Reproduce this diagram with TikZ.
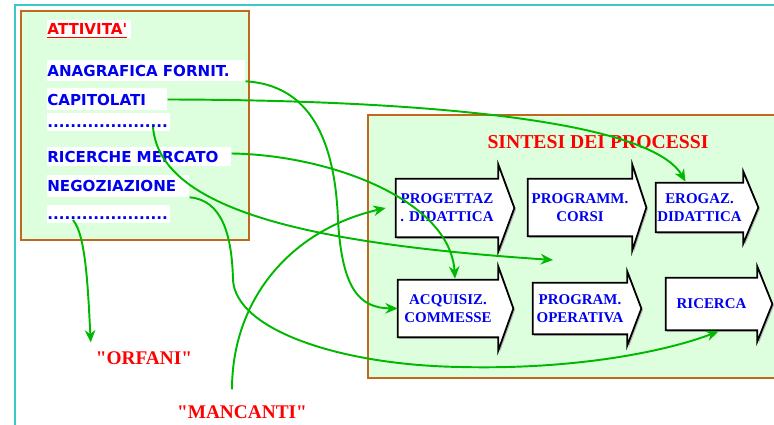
\documentclass[tikz,border=0pt]{standalone}
\usepackage{fontspec}
\setmainfont{Liberation Serif}
\newfontfamily\itemfont{DejaVu Sans}
\newfontfamily\tagfont{Liberation Serif}
\usetikzlibrary{arrows.meta, positioning, calc, shadows}
\definecolor{sinGreen}{HTML}{00B800}
\definecolor{sinPanel}{HTML}{DDFFDD}
\definecolor{sinBrown}{HTML}{C0681E}
\definecolor{sinCyan}{HTML}{3CC8C8}
\definecolor{sinBlue}{HTML}{0000F0}
\definecolor{sinRed}{HTML}{FF0000}

\newcommand{\procarrow}[7]{%
  \node[procbody, minimum width={#3*0.02cm}, minimum height={#4*0.02cm}] (#1) at (#2) {};
  \filldraw[procline] (#1.north west) -- (#1.north east) -- ++(0,-#5)
    -- ($(#1.east)+(#6,0)$) -- ($(#1.south east)+(0,#5)$) -- (#1.south east)
    -- (#1.south west) -- cycle;
  \node[proctext] at (#1) {#7};}

\begin{document}
\begin{tikzpicture}[x=0.02cm, y=-0.02cm,
  panel/.style={draw=sinBrown, line width=1.1pt, fill=sinPanel},
  item/.style={anchor=west, fill=white, inner xsep=0pt, inner ysep=0pt, align=left,
    text height=6.3pt, text depth=0pt, text=sinBlue,
    font=\itemfont\bfseries\fontsize{8.6}{10}\selectfont},
  procbody/.style={inner sep=0pt},
  procline/.style={draw=black, line width=1pt, fill=white,
    drop shadow={shadow xshift=0.9pt, shadow yshift=-0.9pt, fill=gray!60, opacity=1}},
  proctext/.style={align=center, text=sinBlue, font=\bfseries\fontsize{8.5}{10.2}\selectfont},
  tag/.style={text=sinRed, inner sep=1pt, font=\tagfont\bfseries\fontsize{11}{13}\selectfont},
  link/.style={draw=sinGreen, line width=1.1pt, -{Stealth[length=7pt, width=6pt]}}]
  \useasboundingbox (0,0) rectangle (774,425);

  % frame and panels
  \draw[sinCyan, line width=1.1pt] (15,440) -- (15,5) -- (790,5);
  \draw[panel] (21,11) rectangle (249,240);
  \draw[panel] (368,115) rectangle (790,378);

  % attivita'
  \node[item, text width=1.68cm, minimum height=0.36cm, text=sinRed] (att) at (47,29) {\underline{ATTIVITA'}};
  \node[item, text width=3.96cm, minimum height=0.42cm] (anag) at (47,70.5) {ANAGRAFICA FORNIT.};
  \node[item, text width=2.40cm, minimum height=0.44cm] (capit) at (47,99.5) {CAPITOLATI};
  \node[item, text width=2.46cm, minimum height=0.36cm] (dotsa) at (47,122) {.....................};
  \node[item, text width=3.68cm, minimum height=0.38cm] (ricer) at (47,156.5) {RICERCHE MERCATO};
  \node[item, text width=2.84cm, minimum height=0.44cm] (negoz) at (47,186) {NEGOZIAZIONE};
  \node[item, text width=2.46cm, minimum height=0.36cm] (dotsb) at (47,214) {.....................};

  % processi
  \node[text=sinRed, font=\bfseries\fontsize{11.2}{13}\selectfont] (sint) at (598,142) {SINTESI DEI PROCESSI};
  \procarrow{prog}{447,208}{102}{58}{14}{16}{PROGETTAZ\\. DIDATTICA}
  \procarrow{progc}{580,207.5}{104}{57}{14}{14}{PROGRAMM.\\CORSI}
  \procarrow{erog}{699.5,207.5}{87}{49}{11}{15}{EROGAZ.\\DIDATTICA}
  \procarrow{acq}{448,308.5}{100}{57}{13}{15}{ACQUISIZ.\\COMMESSE}
  \procarrow{progo}{580,308.5}{94}{51}{11}{14}{PROGRAM.\\OPERATIVA}
  \procarrow{ric}{711.5,304}{91}{52}{11}{15}{RICERCA}

  \node[tag] (orf) at (144,358) {"ORFANI"};
  \node[tag] (manc) at (242,412) {"MANCANTI"};
  \coordinate (gap) at (553,260);

  % links
  \draw[link] (anag.south east) .. controls (310,85) and (335,140) .. (338,220)
    .. controls (342,290) and (360,308) .. (acq.west);
  \draw[link] (capit.east) .. controls (420,100) and (650,120) .. ($(erog.north)+(-14,-1)$);
  \draw[link] ($(dotsa.west)+(106,5)$) .. controls (160,215) and (330,245) .. (gap);
  \draw[link] ($(ricer.east)+(0,-3)$) .. controls (330,155) and (450,200) .. ($(acq.north)+(7,-1)$);
  \draw[link] (negoz.south east) .. controls (222,200) and (232,235) .. (233,280)
    .. controls (236,330) and (340,365) .. (460,367)
    .. controls (580,370) and (670,350) .. ($(ric.south)+(7,1)$);
  \draw[link] ($(dotsb.west)+(26,6)$) .. controls (86,235) and (88,290) .. ($(orf.north west)+(-3,-7)$);
  \draw[link] ($(manc.north)+(-10,-14)$) .. controls (232,300) and (290,230) .. ($(prog.west)+(-10,0)$);
\end{tikzpicture}
\end{document}
